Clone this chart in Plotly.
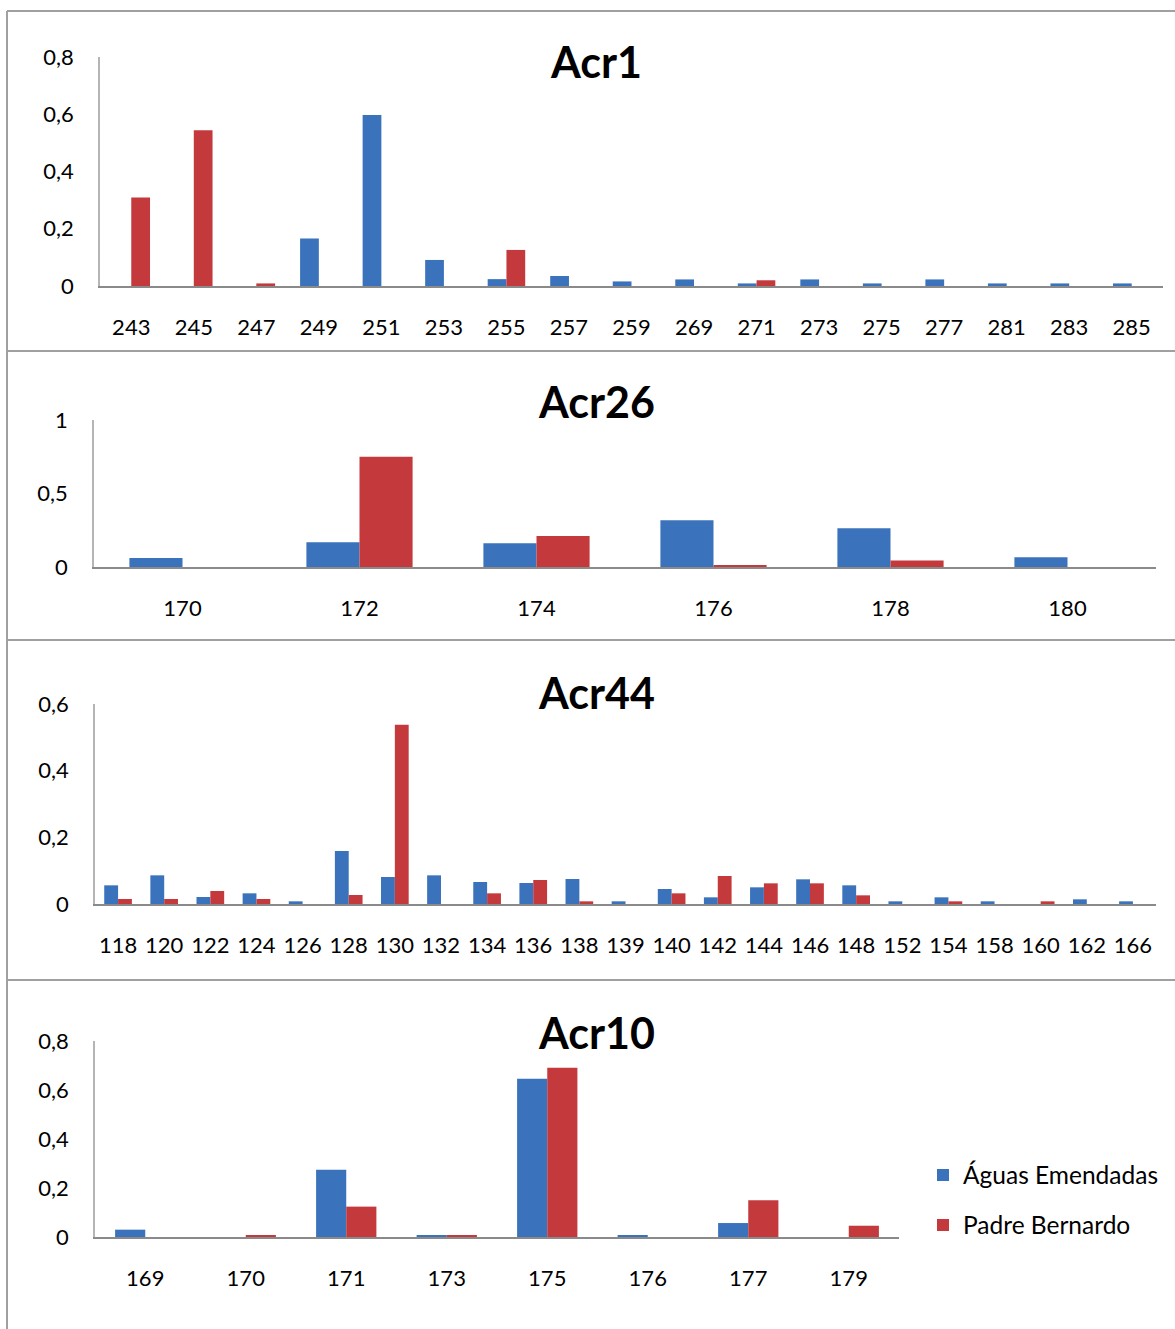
import plotly.graph_objects as go

# ---------------- data ----------------
acr1_alleles = ["243", "245", "247", "249", "251", "253", "255", "257", "259",
                "269", "271", "273", "275", "277", "281", "283", "285"]
acr1_aguas = [0, 0, 0, 0.166, 0.597, 0.091, 0.024, 0.035, 0.016,
              0.023, 0.009, 0.023, 0.009, 0.023, 0.009, 0.009, 0.009]
acr1_padre = [0.309, 0.544, 0.009, 0, 0, 0, 0.126, 0, 0,
              0, 0.02, 0, 0, 0, 0, 0, 0]

acr26_alleles = ["170", "172", "174", "176", "178", "180"]
acr26_aguas = [0.061, 0.168, 0.161, 0.318, 0.264, 0.066]
acr26_padre = [0, 0.75, 0.211, 0.011, 0.045, 0]

acr44_alleles = ["118", "120", "122", "124", "126", "128", "130", "132", "134",
                 "136", "138", "139", "140", "142", "144", "146", "148", "152",
                 "154", "158", "160", "162", "166"]
acr44_aguas = [0.056, 0.086, 0.021, 0.032, 0.008, 0.159, 0.081, 0.086, 0.066,
               0.063, 0.075, 0.008, 0.045, 0.02, 0.05, 0.074, 0.056, 0.008,
               0.02, 0.008, 0, 0.014, 0.008]
acr44_padre = [0.015, 0.015, 0.039, 0.015, 0, 0.027, 0.538, 0, 0.032,
               0.072, 0.008, 0, 0.032, 0.084, 0.062, 0.062, 0.026, 0,
               0.008, 0, 0.008, 0, 0]

acr10_alleles = ["169", "170", "171", "173", "175", "176", "177", "179"]
acr10_aguas = [0.03, 0, 0.275, 0.008, 0.646, 0.008, 0.057, 0]
acr10_padre = [0, 0.008, 0.124, 0.008, 0.691, 0, 0.15, 0.046]

titles = ["Acr1", "Acr26", "Acr44", "Acr10"]
y_max = [0.8, 1.0, 0.6, 0.8]
y_ticks = [[0, 0.2, 0.4, 0.6, 0.8], [0, 0.5, 1], [0, 0.2, 0.4, 0.6], [0, 0.2, 0.4, 0.6, 0.8]]
series_names = ["Águas Emendadas", "Padre Bernardo"]

# ---------------- style / layout ----------------
W, H = 1175, 1329
BLUE = "#3a73bb"
RED = "#c4393c"
FONT = "Lato"


def fx(x):
    return x / W


def fy(y):
    return 1 - y / H


# plot areas in pixels: (x0, x1, ytop, ybottom)
areas = [(100, 1163, 57, 286), (94, 1156, 420, 567), (95, 1156, 704, 904), (95, 899, 1041, 1237)]
title_pos = [(596, 62), (596, 402), (596, 692), (596, 1032)]

panels = [
    (acr1_alleles, acr1_aguas, acr1_padre),
    (acr26_alleles, acr26_aguas, acr26_padre),
    (acr44_alleles, acr44_aguas, acr44_padre),
    (acr10_alleles, acr10_aguas, acr10_padre),
]

fig = go.Figure()
layout_axes = {}
annotations = []
for i, (cats, aguas, padre) in enumerate(panels):
    sfx = "" if i == 0 else str(i + 1)
    last = i == 3
    fig.add_trace(go.Bar(x=cats, y=aguas, name=series_names[0],
                         marker=dict(color=BLUE, line=dict(width=0)),
                         xaxis="x" + sfx, yaxis="y" + sfx,
                         showlegend=last, legend="legend"))
    fig.add_trace(go.Bar(x=cats, y=padre, name=series_names[1],
                         marker=dict(color=RED, line=dict(width=0)),
                         xaxis="x" + sfx, yaxis="y" + sfx,
                         showlegend=last, legend="legend2"))
    x0, x1, yt, yb = areas[i]
    layout_axes["xaxis" + sfx] = dict(
        domain=[fx(x0), fx(x1)], anchor="y" + sfx, type="category",
        showline=True, linecolor="#8a8a8a", linewidth=2, showgrid=False,
        ticks="", tickfont=dict(family=FONT, size=22, color="black"),
        ticklabelstandoff=21, fixedrange=True, automargin=False,
    )
    layout_axes["yaxis" + sfx] = dict(
        domain=[fy(yb), fy(yt)], anchor="x" + sfx, range=[0, y_max[i]],
        tickvals=y_ticks[i], showline=True, linecolor="#b5b5b5", linewidth=1.5,
        showgrid=False, zeroline=False, ticks="",
        tickfont=dict(family=FONT, size=22, color="black"),
        ticklabelstandoff=20, fixedrange=True, automargin=False,
    )
    tx, ty = title_pos[i]
    annotations.append(dict(text="<b>%s</b>" % titles[i], x=fx(tx), y=fy(ty),
                            xref="paper", yref="paper", xanchor="center", yanchor="middle",
                            showarrow=False, font=dict(family=FONT, size=43, color="black")))

# panel frames
shapes = []
for yline in [11, 351, 640, 980]:
    shapes.append(dict(type="line", xref="paper", yref="paper",
                       x0=fx(7), x1=1, y0=fy(yline), y1=fy(yline),
                       line=dict(color="#a0a0a0", width=2)))
shapes.append(dict(type="line", xref="paper", yref="paper",
                   x0=fx(7), x1=fx(7), y0=fy(11), y1=0,
                   line=dict(color="#a0a0a0", width=2)))

legend_common = dict(xanchor="left", yanchor="middle", bgcolor="rgba(0,0,0,0)",
                     font=dict(family=FONT, size=24.5, color="black"),
                     itemclick=False, itemdoubleclick=False)

fig.update_layout(
    width=W, height=H, autosize=False,
    margin=dict(l=0, r=0, t=0, b=0, pad=0, autoexpand=False),
    paper_bgcolor="white", plot_bgcolor="white",
    separators=", ",
    barmode="group", bargap=0.4, bargroupgap=0,
    annotations=annotations,
    shapes=shapes,
    legend=dict(x=fx(923), y=fy(1175), **legend_common),
    legend2=dict(x=fx(923), y=fy(1225), **legend_common),
    **layout_axes,
)

post = (
    "document.documentElement.style.margin='0px';"
    "document.body.style.margin='0px';"
    "document.documentElement.style.overflow='hidden';"
    "document.body.style.overflow='hidden';"
    "var d=document.getElementById('{plot_id}');"
    "d.style.position='absolute';d.style.left='0px';d.style.top='0px';"
)

fig.write_html("out.html", config={"displayModeBar": False, "responsive": False}, post_script=post)
